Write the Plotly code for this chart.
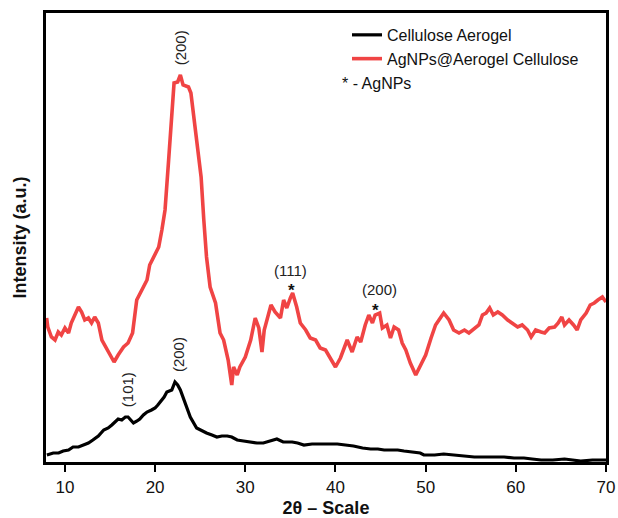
import plotly.graph_objects as go

# 2-theta values and intensities (a.u.)
red_x = [7.97, 8.1, 8.5, 8.9, 9.26, 9.6, 10.0, 10.4, 10.7, 11.1, 11.5, 11.85, 12.2, 12.6, 12.95,
         13.3, 13.7, 14.1, 14.4, 14.8, 15.2, 15.45, 15.9, 16.5, 17.0, 17.5, 17.96, 18.5, 19.1,
         19.4, 20.0, 20.4, 20.75, 21.1, 21.5, 21.85, 22.1, 22.5, 22.8, 23.1, 23.7, 23.97, 24.3,
         24.6, 25.1, 25.4, 25.7, 26.1, 26.3, 26.7, 27.2, 27.6, 28.1, 28.5, 28.7, 29.1, 29.4,
         30.0, 30.6, 30.9, 31.1, 31.5, 31.85, 32.1, 32.6, 32.85, 33.3, 33.9, 34.25, 34.6, 35.0,
         35.25, 35.7, 36.1, 36.7, 37.2, 37.8, 38.3, 38.9, 39.4, 40.0, 40.55, 41.3, 41.85, 42.4,
         42.8, 43.3, 43.7, 44.1, 44.4, 44.9, 45.2, 45.7, 46.1, 46.5, 47.0, 47.4, 47.8, 48.3,
         48.9, 49.4, 50.0, 50.6, 51.1, 51.7, 52.0, 52.6, 53.1, 53.7, 54.3, 54.8, 55.4, 55.9,
         56.3, 56.7, 57.1, 57.5, 58.0, 58.5, 59.1, 59.6, 60.2, 60.7, 61.3, 61.7, 62.2, 62.8,
         63.2, 63.7, 64.3, 64.7, 65.1, 65.4, 65.9, 66.4, 66.8, 67.2, 67.8, 68.25, 68.7, 69.1,
         69.6, 70.0]
red_y = [144, 135, 125, 122, 130, 127, 134, 129, 139, 147, 155, 150, 142, 144, 139,
         145, 139, 122, 117, 112, 104, 100, 107, 115, 119, 129, 162, 172, 182,
         197, 209, 215, 232, 252, 302, 352, 379, 380, 387, 377, 375, 369, 345,
         319, 285, 242, 205, 175, 169, 159, 129, 122, 102, 77, 95, 87, 95,
         105, 122, 137, 144, 134, 110, 132, 149, 157, 150, 144, 162, 154, 164,
         169, 155, 139, 132, 124, 122, 114, 112, 105, 95, 104, 122, 110, 125,
         120, 137, 147, 139, 147, 149, 134, 137, 124, 135, 132, 119, 112, 99,
         87, 97, 107, 124, 137, 145, 149, 142, 132, 129, 132, 129, 134, 137,
         147, 149, 154, 147, 150, 147, 142, 139, 135, 137, 132, 125, 132, 130,
         129, 134, 135, 139, 145, 137, 142, 137, 132, 142, 149, 157, 159, 162,
         165, 160]

black_x = [8.0, 8.7, 9.3, 9.8, 10.4, 10.9, 11.5, 12.0, 12.6, 13.1, 13.7, 14.3, 14.8, 15.2,
           15.9, 16.3, 16.7, 17.0, 17.3, 17.6, 18.0, 18.3, 18.7, 19.1, 19.6, 20.0, 20.3, 20.6,
           21.0, 21.3, 21.85, 22.2, 22.5, 22.8, 23.3, 23.9, 24.6, 25.2, 25.7, 26.3, 26.85,
           27.4, 28.0, 28.5, 29.1, 29.8, 30.6, 31.3, 32.0, 32.8, 33.5, 34.2, 35.2, 35.8, 36.5,
           37.4, 38.3, 39.2, 40.2, 41.1, 42.0, 43.0, 43.9, 44.7, 45.4, 46.2, 46.9, 47.6, 48.3,
           49.4, 49.8, 51.0, 52.0, 53.2, 54.3, 55.4, 56.5, 57.6, 58.7, 59.8, 60.9, 61.8, 62.8,
           64.1, 65.4, 66.3, 67.2, 68.5, 69.8, 70.0]
black_y = [7, 9, 9, 11, 12, 15, 15, 17, 19, 22, 26, 32, 34, 37,
           43, 42, 45, 45, 42, 39, 41, 43, 47, 50, 52, 54, 57, 60,
           65, 70, 72, 80, 77, 72, 59, 45, 34, 31, 29, 27, 25,
           26, 26, 25, 22, 21, 20, 19, 19, 21, 23, 20, 20, 19, 17,
           18, 18, 18, 18, 17, 16, 14, 13, 13, 12, 12, 12, 11, 10,
           9, 7, 7, 8, 7, 6, 5, 5, 5, 5, 4, 4, 3, 2,
           2, 3, 2, 1, 2, 2, 2]

series_names = ["Cellulose Aerogel", "AgNPs@Aerogel Cellulose"]
x_ticks = [10, 20, 30, 40, 50, 60, 70]

# peak labels: (text, x, y, rotation)
peak_labels = [("(200)", 22.8, 414, -90), ("(200)", 22.55, 107, -90), ("(101)", 16.9, 72, -90),
               ("(111)", 35.0, 192, 0), ("(200)", 44.9, 173, 0)]
star_marks = [(35.1, 172), (44.4, 152)]

FONT = "Liberation Sans, Arial, sans-serif"

fig = go.Figure()
fig.add_trace(go.Scatter(x=black_x, y=black_y, mode="lines", name=series_names[0],
                         line=dict(color="#000000", width=3.2)))
fig.add_trace(go.Scatter(x=red_x, y=red_y, mode="lines", name=series_names[1],
                         line=dict(color="#F04444", width=3.6)))

for t, x, y, rot in peak_labels:
    fig.add_annotation(x=x, y=y, text=t, showarrow=False, textangle=rot,
                       font=dict(family=FONT, size=15, color="#222222"))
for x, y in star_marks:
    fig.add_annotation(x=x, y=y, text="<b>*</b>", showarrow=False,
                       font=dict(family=FONT, size=17, color="#111111"))

fig.add_annotation(xref="paper", yref="paper", x=0.525, y=0.842, xanchor="left", yanchor="middle",
                   text="* - AgNPs", showarrow=False,
                   font=dict(family=FONT, size=16, color="#111111"))

fig.update_layout(
    width=618, height=518,
    margin=dict(l=46, r=12, t=13, b=56),
    paper_bgcolor="white", plot_bgcolor="white",
    font=dict(family=FONT, color="#111111"),
    showlegend=True,
    legend=dict(x=0.5375, y=0.989, xanchor="left", yanchor="top",
                bgcolor="rgba(0,0,0,0)", borderwidth=0,
                font=dict(family=FONT, size=16, color="#111111"),
                tracegroupgap=0, itemwidth=30),
    xaxis=dict(range=[7.9, 70], tickvals=x_ticks, ticks="outside", ticklen=7, tickwidth=2,
               tickcolor="black", showline=True, linewidth=3, linecolor="black", mirror=True,
               showgrid=False, zeroline=False, automargin=False, ticklabelstandoff=1,
               tickfont=dict(family=FONT, size=17, color="#111111"),
               title=dict(text="<b>2θ – Scale</b>", font=dict(family=FONT, size=18, color="#111111"),
                          standoff=13)),
    yaxis=dict(range=[0, 449], showticklabels=False, ticks="", showline=True, linewidth=3,
               linecolor="black", mirror=True, showgrid=False, zeroline=False, automargin=False,
               title=dict(text="<b>Intensity (a.u.)</b>", font=dict(family=FONT, size=18, color="#111111"),
                          standoff=12)),
)

fig.write_html("out.html")
